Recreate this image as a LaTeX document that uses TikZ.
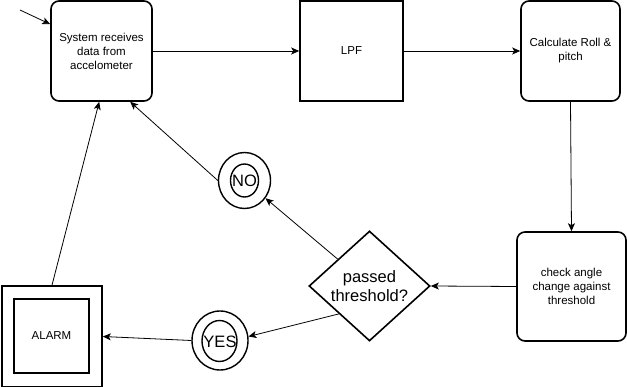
\documentclass[tikz,border=0pt]{standalone}
\usepackage{fontspec}
\setmainfont{Liberation Sans}
\usetikzlibrary{shapes.geometric,arrows.meta,calc}
\begin{document}
\begin{tikzpicture}[x=1pt,y=-1pt,
  every node/.style={inner sep=0pt, align=center},
  small/.style={font=\fontsize{11.5}{14}\selectfont},
  big/.style={font=\fontsize{16.5}{19}\selectfont},
  roundbox/.style={draw, line width=1.6pt, rounded corners=8pt, small},
  sharpbox/.style={draw, line width=1.6pt, small},
  ring/.style={draw, ellipse, line width=1.4pt},
  arr/.style={line width=0.8pt, -{Stealth[length=8pt,width=7pt,inset=2pt]}},
  plain/.style={line width=0.8pt}]
\useasboundingbox (0,0) rectangle (627,387);

% main processing chain
\node[roundbox, minimum width=101pt, minimum height=100pt] (sys) at (101.5,51)
  {System receives\\data from\\accelometer};
\node[sharpbox, minimum width=103pt, minimum height=100pt] (lpf) at (351.5,51) {LPF};
\node[roundbox, minimum width=99pt, minimum height=100pt] (calc) at (570.5,51)
  {Calculate Roll \&\\pitch};
\node[roundbox, minimum width=109pt, minimum height=109pt] (check) at (571.5,286.5)
  {check angle\\change against\\threshold};

% decision
\node[draw, diamond, line width=1.6pt, minimum width=121pt, minimum height=110pt] (dec) at (369.5,286) {};
\node[big] (dectext) at (369.5,286) {passed\\threshold?};

% outcomes
\node[ring, minimum width=52pt, minimum height=56pt] (no) at (244.5,180.5) {};
\node[ring, minimum width=28pt, minimum height=33pt] (noin) at (244.5,180.5) {};
\node[big] (notext) at (244.5,181) {NO};

\node[ring, minimum width=56pt, minimum height=59pt] (yes) at (220,340.5) {};
\node[ring, minimum width=35pt, minimum height=41pt] (yesin) at (219.5,341) {};
\node[big] (yestext) at (220,341.5) {YES};

\node[draw, line width=1.6pt, minimum width=100pt, minimum height=101pt] (alarm) at (52,336.5) {};
\node[draw, line width=1.4pt, minimum width=75pt, minimum height=74pt, small] (alarmin) at (51.5,336) {ALARM};

% connectors
\coordinate (start) at (20,10);
\draw[arr] (start) -- ($(sys.north west)+(0,24)$);
\draw[arr] (sys.east) -- (lpf.west);
\draw[arr] (lpf.east) -- (calc.west);
\draw[arr] (calc.south) -- (check.north);
\draw[arr] (check.west) -- (dec.east);
\draw[arr] (dec) -- (no);
\draw[arr] (no.west) -- ($(sys.south west)+(80,0)$);
\draw[arr] (dec.south west) -- (yes.8);
\draw[arr] (yes.west) -- (alarm.east);
\draw[arr] (alarm.north) -- ($(sys.south west)+(49,0)$);
\end{tikzpicture}
\end{document}
